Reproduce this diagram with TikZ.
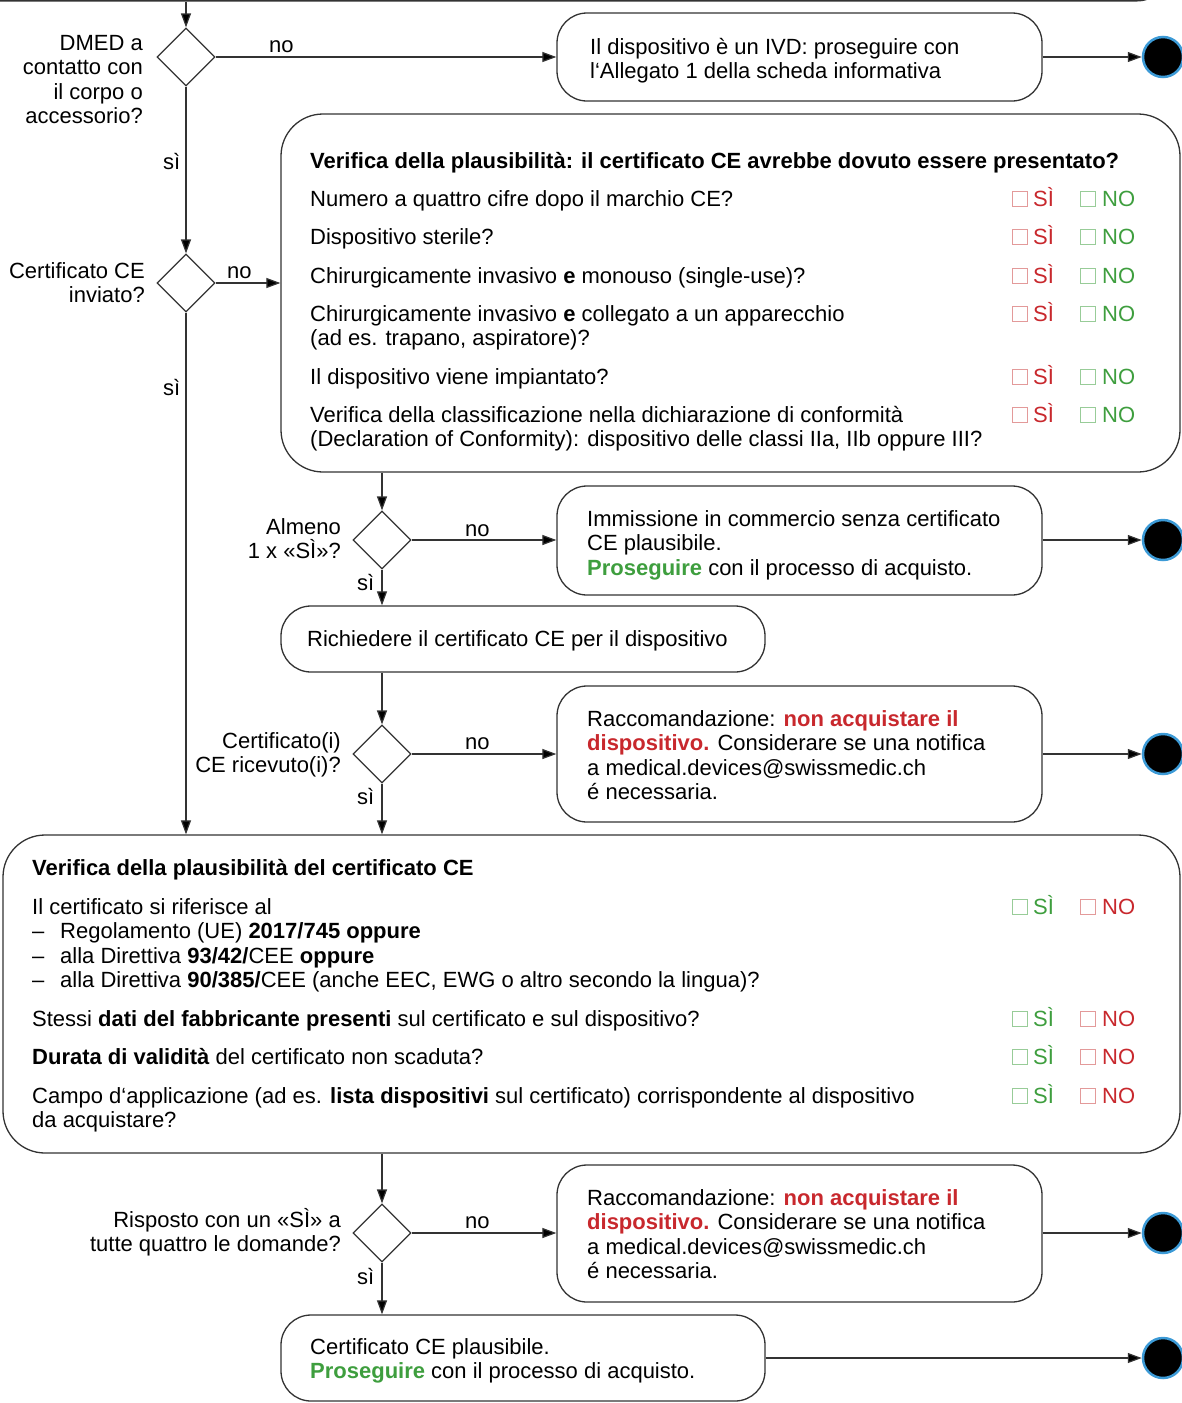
\documentclass[tikz,border=0pt]{standalone}
\usepackage{fontspec}
\setmainfont{Liberation Sans}
\usetikzlibrary{shapes.geometric,arrows.meta}
\definecolor{cred}{HTML}{C8282D}
\definecolor{cgreen}{HTML}{3E9E3E}
\definecolor{bred}{HTML}{E39A9A}
\definecolor{bgreen}{HTML}{98CC98}
\definecolor{cblue}{HTML}{3C9AD6}
\definecolor{cline}{HTML}{333333}
\begin{document}
\begin{tikzpicture}[x=1pt,y=-1pt,
 every node/.style={font=\fontsize{22}{24.6}\selectfont},
 txt/.style={anchor=base west, inner sep=0, align=left},
 rtxt/.style={anchor=base east, inner sep=0, align=right},
 box/.style={draw=cline, line width=1.3pt, rounded corners=30pt, inner sep=0},
 bigbox/.style={draw=cline, line width=1.3pt, rounded corners=42pt, inner sep=0},
 dec/.style={draw=cline, diamond, aspect=1, minimum width=58pt, minimum height=58pt, inner sep=0, line width=1.2pt},
 stopc/.style={circle, fill=black, draw=cblue, line width=2.5pt, minimum size=40pt, inner sep=0},
 flow/.style={draw=cline, line width=1.2pt, -{Triangle[length=14pt,width=10pt,fill=black]}},
 cbox/.style={draw=#1, line width=0.8pt, minimum size=15pt, inner sep=0},
 lab/.style={anchor=base west, inner sep=0},
]
\useasboundingbox (0,0) rectangle (1181,1403);
% boxes
\node[box, minimum width=1300pt, minimum height=100pt, anchor=south east] (prev) at (1168,1.5) {};
\node[box, minimum width=485pt, minimum height=88pt] (ivd) at (799.5,57) {};
\node[bigbox, minimum width=899pt, minimum height=358pt] (box2) at (730.5,293) {};
\node[box, minimum width=485pt, minimum height=109pt] (box3) at (799.5,540.5) {};
\node[box, minimum width=484pt, minimum height=66pt] (box4) at (523,639) {};
\node[box, minimum width=485pt, minimum height=136pt] (box5) at (799.5,754) {};
\node[bigbox, minimum width=1177pt, minimum height=318pt] (box6) at (591.5,994) {};
\node[box, minimum width=485pt, minimum height=137pt] (box7) at (799.5,1233.5) {};
\node[box, minimum width=484pt, minimum height=86pt] (box8) at (523,1358) {};
% decisions
\node[dec] (d1) at (186,57) {};
\node[dec] (d2) at (186,283) {};
\node[dec] (d3) at (382,540) {};
\node[dec] (d4) at (382,754) {};
\node[dec] (d5) at (382,1233) {};
% stops
\node[stopc] (s1) at (1163,57) {};
\node[stopc] (s2) at (1163,540) {};
\node[stopc] (s3) at (1163,754) {};
\node[stopc] (s4) at (1163,1233) {};
\node[stopc] (s5) at (1163,1358) {};
% connectors
\draw[flow] (d1.north |- prev.south) -- (d1.north);
\draw[flow] (d1.east) -- (d1.east -| ivd.west);
\draw[flow] (d1.east -| ivd.east) -- (s1.west);
\draw[flow] (d1.south) -- (d2.north);
\draw[flow] (d2.east) -- (d2.east -| box2.west);
\draw[flow] (d2.south) -- (d2.south |- box6.north);
\draw[flow] (d3.north |- box2.south) -- (d3.north);
\draw[flow] (d3.east) -- (d3.east -| box3.west);
\draw[flow] (d3.east -| box3.east) -- (s2.west);
\draw[flow] (d3.south) -- (d3.south |- box4.north);
\draw[flow] (d4.north |- box4.south) -- (d4.north);
\draw[flow] (d4.east) -- (d4.east -| box5.west);
\draw[flow] (d4.east -| box5.east) -- (s3.west);
\draw[flow] (d4.south) -- (d4.south |- box6.north);
\draw[flow] (d5.north |- box6.south) -- (d5.north);
\draw[flow] (d5.east) -- (d5.east -| box7.west);
\draw[flow] (d5.east -| box7.east) -- (s4.west);
\draw[flow] (d5.south) -- (d5.south |- box8.north);
\draw[flow] (box8.east) -- (s5.west);
% decision labels (base = last line)
\node[rtxt] (q1) at (143,123.8) {DMED a\\contatto con\\il corpo o\\accessorio?};
\node[rtxt] (q2) at (145,302.6) {Certificato CE\\inviato?};
\node[rtxt] (q3) at (341,558.6) {Almeno\\1 x «SÌ»?};
\node[rtxt] (q4) at (341,772.6) {Certificato(i)\\CE ricevuto(i)?};
\node[rtxt] (q5) at (341,1251.6) {Risposto con un «SÌ» a\\tutte quattro le domande?};
\node[lab] (no1) at (269,52) {no};
\node[lab] (no2) at (227,278) {no};
\node[lab] (no3) at (465,536) {no};
\node[lab] (no4) at (465,749) {no};
\node[lab] (no5) at (465,1228) {no};
\node[lab] (si1) at (163,169) {sì};
\node[lab] (si2) at (163,395) {sì};
\node[lab] (si3) at (357,590) {sì};
\node[lab] (si4) at (357,804) {sì};
\node[lab] (si5) at (357,1284) {sì};
% box texts
\node[txt] (t1) at (590,78.6) {Il dispositivo è un IVD: proseguire con\\l‘Allegato 1 della scheda informativa};
\node[txt] (t2h) at (310,168) {\textbf{Verifica della plausibilità: il certificato CE avrebbe dovuto essere presentato?}};
\node[txt] (t2a) at (310,206) {Numero a quattro cifre dopo il marchio CE?};
\node[txt] (t2b) at (310,244) {Dispositivo sterile?};
\node[txt] (t2c) at (310,283) {Chirurgicamente invasivo \textbf{e} monouso (single-use)?};
\node[txt] (t2d) at (310,345.6) {Chirurgicamente invasivo \textbf{e} collegato a un apparecchio\\(ad es. trapano, aspiratore)?};
\node[txt] (t2e) at (310,384) {Il dispositivo viene impiantato?};
\node[txt] (t2f) at (310,446.6) {Verifica della classificazione nella dichiarazione di conformità\\(Declaration of Conformity): dispositivo delle classi IIa, IIb oppure III?};
\node[txt] (t3) at (587,575.2) {Immissione in commercio senza certificato\\CE plausibile.\\\textcolor{cgreen}{\textbf{Proseguire}} con il processo di acquisto.};
\node[txt] (t4) at (307,646) {Richiedere il certificato CE per il dispositivo};
\node[txt] (t5) at (587,799.8) {Raccomandazione: \textcolor{cred}{\textbf{non acquistare il}}\\\textcolor{cred}{\textbf{dispositivo.}} Considerare se una notifica\\a medical.devices@swissmedic.ch\\é necessaria.};
\node[txt] (t6h) at (32,875) {\textbf{Verifica della plausibilità del certificato CE}};
\node[txt] (t6a) at (32,987.8) {Il certificato si riferisce al\\\makebox[28pt][l]{–}Regolamento (UE) \textbf{2017/745 oppure}\\\makebox[28pt][l]{–}alla Direttiva \textbf{93/42/}CEE \textbf{oppure}\\\makebox[28pt][l]{–}alla Direttiva \textbf{90/385/}CEE (anche EEC, EWG o altro secondo la lingua)?};
\node[txt] (t6b) at (32,1026) {Stessi \textbf{dati del fabbricante presenti} sul certificato e sul dispositivo?};
\node[txt] (t6c) at (32,1064) {\textbf{Durata di validità} del certificato non scaduta?};
\node[txt] (t6d) at (32,1127.6) {Campo d‘applicazione (ad es. \textbf{lista dispositivi} sul certificato) corrispondente al dispositivo\\da acquistare?};
\node[txt] (t7) at (587,1278.8) {Raccomandazione: \textcolor{cred}{\textbf{non acquistare il}}\\\textcolor{cred}{\textbf{dispositivo.}} Considerare se una notifica\\a medical.devices@swissmedic.ch\\é necessaria.};
\node[txt] (t8) at (310,1378.6) {Certificato CE plausibile.\\\textcolor{cgreen}{\textbf{Proseguire}} con il processo di acquisto.};
% checkboxes
\foreach \y [count=\i] in {199,237,276,314,377,415} {
  \node[cbox=bred] (ra\i) at (1019.5,\y) {};
  \node[lab, text=cred] (rs\i) at (1033,\y+7) {SÌ};
  \node[cbox=bgreen] (ga\i) at (1088,\y) {};
  \node[lab, text=cgreen] (gn\i) at (1102,\y+7) {NO};
}
\foreach \y [count=\i] in {907,1019,1057,1096} {
  \node[cbox=bgreen] (gb\i) at (1019.5,\y) {};
  \node[lab, text=cgreen] (gs\i) at (1033,\y+7) {SÌ};
  \node[cbox=bred] (rb\i) at (1088,\y) {};
  \node[lab, text=cred] (rn\i) at (1102,\y+7) {NO};
}
\end{tikzpicture}
\end{document}
